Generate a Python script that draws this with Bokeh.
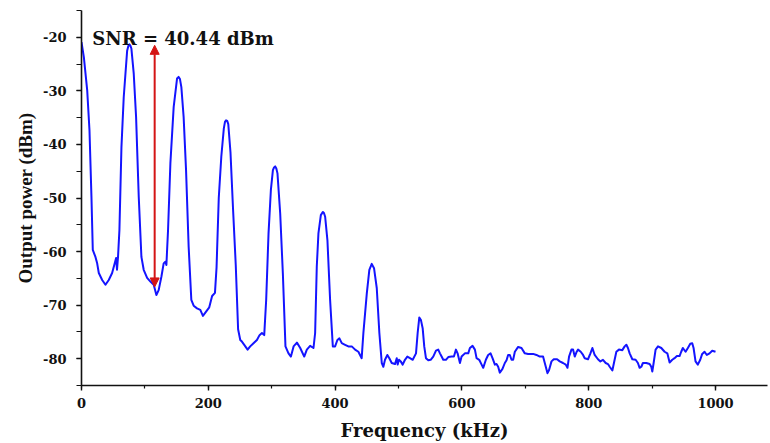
from bokeh.plotting import figure
from bokeh.models import (Range1d, SingleIntervalTicker, Label, Arrow, NormalHead,
                          CustomJSTickFormatter)
from bokeh.embed import file_html
from bokeh.resources import INLINE

# ---- data ----
freq_khz = [
    0, 3.7, 9.0, 12.6, 15.7, 17.8, 22.0, 24.7, 27.3, 32.6,
    37.8, 43.0, 48.3, 52.4, 54.6, 56.0, 57.6, 59.8, 63.0, 66.6,
    72.0, 74.0, 75.6, 77.2, 78.7, 82.4, 86.1, 90.3, 94.5, 98.1, 103.5, 108.7,
    113.9, 118.1, 121.7, 126.0, 129.6, 132.3, 133.9, 136.5, 140.2, 145.4,
    150.7, 153.2, 155.3, 157.5, 161.1, 164.9, 169.0, 173.2, 176.9, 182.2, 187.4,
    191.5, 196.5, 201.5, 206.0, 210.5, 213.0, 216.5, 220.5, 224.5, 226.3, 228.0,
    229.8, 231.5, 235.0, 239.0, 243.3, 247.0, 250.4, 253.0, 256.7, 262.0, 266.1,
    271.3, 276.7, 280.8, 284.6, 288.2, 291.3, 295.0, 298.7, 301.9, 303.7, 305.5,
    307.3, 309.1, 313.4, 317.6, 321.7, 326.5, 330.3, 334.5, 339.8, 345.0, 351.3,
    355.4, 360.6, 365.9, 368.5, 371.1, 373.7, 377.5, 380.6, 382.4, 384.3, 387.9,
    392.1, 396.4, 400.0, 403.6, 406.8, 410.5, 415.7, 420.9, 426.3, 431.5,
    436.7, 441.9, 444.6, 450.0, 454.0, 457.8, 461.4, 465.7, 469.8, 473.6,
    476.1, 478.7, 482.4, 485.5, 489.3, 494.5, 497.2, 498.7, 500.8, 503.5,
    506.6, 510.2, 513.9, 518.1, 522.4, 527.6, 530.2, 532.8, 535.4, 538.1,
    540.6, 543.3, 547.0, 550.7, 554.8, 559.1, 562.7, 565.4, 568.0, 570.6,
    574.8, 578.5, 583.8, 587.4, 590.6, 593.2, 596.9, 599.5, 604.7, 610.0,
    612.6, 616.8, 620.5, 623.1, 627.3, 631.1, 633.6, 637.8, 641.4, 645.2,
    648.3, 652.0, 654.6, 657.2, 659.8, 664.0, 667.7, 670.4, 672.9, 675.6,
    678.3, 680.8, 683.5, 688.7, 694.0, 699.2, 704.4, 712.3, 717.6, 722.8,
    728.0, 732.3, 735.0, 737.5, 741.3, 744.9, 750.1, 754.3, 759.5, 763.8,
    766.5, 769.0, 772.8, 775.3, 778.0, 780.6, 783.2, 787.4, 791.1, 793.7,
    798.9, 802.7, 805.8, 809.4, 814.6, 818.4, 822.5, 826.8, 830.4, 833.1,
    837.3, 839.8, 843.6, 847.7, 853.0, 856.7, 859.4, 861.9, 864.6, 868.8,
    874.0, 877.6, 880.3, 883.0, 885.5, 890.9, 896.1, 898.7, 900.3, 902.4,
    905.5, 909.3, 914.5, 919.7, 924.0, 927.6, 931.8, 935.4, 939.1, 943.3,
    945.9, 948.5, 952.8, 956.4, 960.2, 963.3, 965.4, 968.5, 972.1, 975.9,
    979.0, 982.7, 986.3, 990.6, 994.8, 1000.0,
]

power_dbm = [
    -20.9, -23.7, -29.9, -37.4, -49.8, -59.7, -61.0, -62.2, -64.0, -65.3,
    -66.2, -65.3, -64.0, -62.2, -61.2, -63.4, -61.0, -56.0, -40.5, -31.2,
    -22.5, -21.6, -21.3, -21.6, -22.1, -26.8, -34.9, -49.8, -61.0, -63.4, -64.9, -65.6,
    -66.2, -68.1, -67.2, -64.7, -62.2, -61.9, -62.5, -56.0, -43.5, -33.0,
    -27.7, -27.4, -27.8, -29.3, -34.9, -44.8, -59.1, -69.0, -70.1, -70.6, -70.9,
    -72.0, -71.2, -70.4, -68.3, -67.7, -63.0, -50.0, -42.3, -37.0, -35.8, -35.5,
    -35.6, -36.2, -41.5, -52.0, -62.5, -74.5, -76.5, -76.8, -77.4, -78.3, -77.7,
    -77.1, -76.5, -75.6, -75.2, -75.6, -69.0, -56.6, -48.5, -44.8, -44.3, -44.1,
    -44.5, -45.4, -52.9, -64.1, -77.7, -79.0, -79.6, -77.7, -77.0, -78.0, -79.6,
    -78.3, -77.6, -78.0, -75.2, -62.8, -56.6, -53.2, -52.6, -52.8, -53.5, -57.9,
    -69.0, -77.7, -77.7, -76.5, -76.2, -77.1, -77.4, -77.7, -77.7, -78.3,
    -78.7, -79.9, -75.2, -67.8, -63.4, -62.3, -63.1, -66.8, -75.2, -80.8,
    -81.5, -80.2, -79.3, -79.9, -80.8, -81.0, -79.9, -81.1, -80.2, -80.5,
    -81.1, -80.2, -79.6, -79.9, -80.2, -79.0, -75.2, -72.3, -72.8, -74.3,
    -77.7, -79.9, -80.3, -80.2, -79.6, -78.5, -78.3, -79.0, -79.6, -80.2,
    -80.2, -79.7, -79.6, -79.6, -78.3, -79.0, -80.8, -79.6, -79.0, -79.0,
    -78.0, -77.6, -78.3, -79.9, -80.2, -81.1, -81.7, -80.2, -79.3, -79.0,
    -79.9, -81.1, -81.0, -81.5, -82.6, -81.9, -80.8, -80.3, -79.3, -79.3,
    -80.2, -80.2, -78.7, -77.8, -78.0, -79.0, -79.1, -79.1, -79.3, -79.6,
    -79.6, -81.5, -82.7, -82.1, -80.5, -80.1, -80.1, -80.5, -80.8, -81.1,
    -81.7, -79.6, -78.3, -78.3, -79.6, -78.8, -78.3, -78.7, -79.3, -79.9,
    -80.1, -79.0, -78.0, -79.3, -80.1, -80.5, -80.2, -80.8, -81.0, -81.5,
    -82.2, -80.8, -78.7, -78.3, -78.4, -77.7, -77.4, -78.0, -79.0, -80.1,
    -80.2, -80.8, -81.7, -81.5, -80.8, -80.8, -81.0, -81.5, -82.4, -80.8,
    -78.3, -77.7, -78.0, -78.7, -79.0, -80.7, -80.2, -79.9, -79.5, -79.5,
    -78.7, -78.0, -78.7, -78.0, -77.2, -77.1, -78.0, -80.5, -81.1, -80.2,
    -79.1, -78.7, -79.3, -79.0, -78.5, -78.7,
]

assert len(freq_khz) == len(power_dbm)

snr_text = "SNR = 40.44 dBm"
snr_freq = 115.4      # frequency where the SNR arrow is drawn
snr_top = -21.5       # carrier level
snr_bottom = -66.6    # noise floor level
snr_label_at = (17.0, -20.3)

x_label = "Frequency (kHz)"
y_label = "Output power (dBm)"

# ---- figure ----
p = figure(
    frame_width=686, frame_height=375,
    x_range=Range1d(0, 1082), y_range=Range1d(-85, -15),
    output_backend="svg", toolbar_location=None,
    min_border_left=81, min_border_right=1,
    min_border_top=10, min_border_bottom=57,
)
p.outline_line_color = None
p.xgrid.visible = False
p.ygrid.visible = False
p.background_fill_color = "white"
p.border_fill_color = "white"

p.line(freq_khz, power_dbm, line_color="#1414ff", line_width=2, line_join="round")

red = "#d41515"
p.add_layout(Arrow(
    start=NormalHead(size=9, fill_color=red, line_color=red),
    end=NormalHead(size=9, fill_color=red, line_color=red),
    x_start=snr_freq, y_start=snr_bottom, x_end=snr_freq, y_end=snr_top,
    line_color=red, line_width=2,
))

p.add_layout(Label(
    x=snr_label_at[0], y=snr_label_at[1], text=snr_text,
    text_font="DejaVu Serif", text_font_style="bold", text_font_size="18px",
    text_color="#111111", text_baseline="alphabetic",
))

p.xaxis.ticker = SingleIntervalTicker(interval=200, num_minor_ticks=2)
p.yaxis.ticker = SingleIntervalTicker(interval=10, num_minor_ticks=2)
p.yaxis.formatter = CustomJSTickFormatter(code="return String(Math.round(tick));")
p.xaxis.axis_label = x_label
p.yaxis.axis_label = y_label

for ax in (p.xaxis[0], p.yaxis[0]):
    ax.axis_line_color = "#111111"
    ax.axis_line_width = 1.6
    ax.major_tick_line_color = "#111111"
    ax.major_tick_line_width = 1.4
    ax.minor_tick_line_color = "#111111"
    ax.minor_tick_line_width = 1.2
    ax.major_tick_in = 0
    ax.major_tick_out = 5
    ax.minor_tick_in = 0
    ax.minor_tick_out = 3
    ax.major_label_text_font = "DejaVu Serif"
    ax.major_label_text_font_style = "bold"
    ax.major_label_text_font_size = "13px"
    ax.major_label_text_color = "#111111"
    ax.axis_label_text_font_style = "bold"
    ax.axis_label_text_color = "#111111"

p.xaxis.major_label_standoff = 7
p.yaxis.major_label_standoff = 10
p.xaxis.axis_label_text_font = "DejaVu Serif"
p.xaxis.axis_label_text_font_size = "18px"
p.xaxis.axis_label_standoff = 9
p.yaxis.axis_label_text_font = "Liberation Serif"
p.yaxis.axis_label_text_font_size = "19px"
p.yaxis.axis_label_standoff = 4
p.yaxis.minor_tick_out = 5

open("out.html", "w").write(file_html(p, INLINE))
